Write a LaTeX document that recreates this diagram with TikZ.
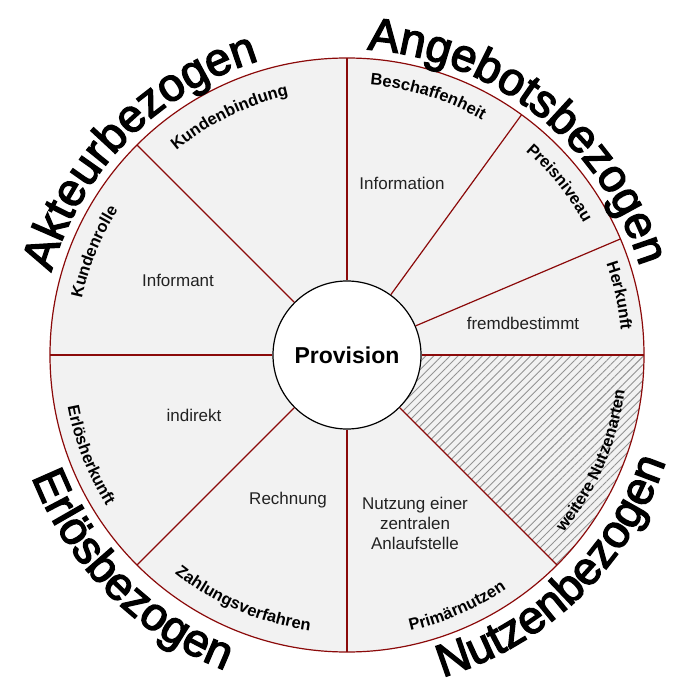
\documentclass[tikz,border=0pt]{standalone}
\usepackage{fontspec}
\setmainfont{Liberation Sans}
\newfontfamily\bigface[FakeBold=3]{Liberation Sans}
\usetikzlibrary{decorations.text,patterns.meta}
\definecolor{ring}{HTML}{F2F2F2}
\definecolor{rim}{HTML}{8B0A0A}
\definecolor{txt}{HTML}{222222}
\newcommand{\bigfnt}{\bigface\fontsize{46}{46}\selectfont}
\newcommand{\secfnt}{\fontsize{16.5}{16.5}\selectfont\bfseries}
\newcommand{\innfnt}{\fontsize{17}{20}\selectfont}
% top label: tops outward, clockwise arc
\newcommand{\toplab}[4]{%
  \path[decorate,decoration={text along path,text align=center,text={|#4|#3}}]
    ({#1+40}:#2) arc[start angle={#1+40},end angle={#1-40},radius=#2];}
% bottom label: tops inward, counterclockwise arc
\newcommand{\botlab}[4]{%
  \path[decorate,decoration={text along path,text align=center,text={|#4|#3}}]
    ({#1-40}:#2) arc[start angle={#1-40},end angle={#1+40},radius=#2];}
\begin{document}
\begin{tikzpicture}[x=1pt,y=1pt,
  sector/.style={draw=rim,line width=1.2pt},
  inner/.style={text=txt,font=\innfnt,align=center}]
\useasboundingbox (-347,-330) rectangle (325,355);
% ring
\node[circle,fill=ring,minimum size=594pt,inner sep=0pt,outer sep=0pt] (outer) at (0,0) {};
\path[pattern={Lines[angle=45,distance=5.7pt,line width=0.9pt]},pattern color=gray!85]
  (0,0) -- (0:297) arc[start angle=0,end angle=-45,radius=297] -- cycle;
\draw[sector] (outer.center) circle[radius=297];
% centre
\node[circle,draw=black,fill=white,line width=1.2pt,minimum size=148pt,inner sep=0pt]
  (prov) at (0,0) {\fontsize{23}{23}\selectfont\bfseries Provision};
\foreach \a in {90,54,23,0,315,270,225,180,135}
  \draw[sector] (prov.\a) -- (outer.\a);
% inner texts
\node[inner] (t1) at (55,172) {Information};
\node[inner] (t2) at (176,32) {fremdbestimmt};
\node[inner] (t3) at (-169,75) {Informant};
\node[inner] (t4) at (-153,-60) {indirekt};
\node[inner] (t5) at (-59,-145) {Rechnung};
\node[inner] (t6) at (68,-168) {Nutzung einer\\zentralen\\Anlaufstelle};
% sector labels
\toplab{72.6}{271}{Beschaffenheit}{\secfnt}
\toplab{39}{271}{Preisniveau}{\secfnt}
\toplab{12.3}{275}{Herkunft}{\secfnt}
\toplab{116.3}{266}{Kundenbindung}{\secfnt}
\toplab{157.8}{271}{Kundenrolle}{\secfnt}
\botlab{-23.3}{280}{weitere Nutzenarten}{\secfnt}
\botlab{-66.4}{283}{Primärnutzen}{\secfnt}
\botlab{-113}{278}{Zahlungsverfahren}{\secfnt}
\botlab{-158.7}{284}{Erlösherkunft}{\secfnt}
% big labels
\toplab{51.5}{306}{Angebotsbezogen}{\bigfnt}
\toplab{135.5}{307}{Akteurbezogen}{\bigfnt}
\botlab{-46}{336}{Nutzenbezogen}{\bigfnt}
\botlab{-135}{338}{Erlösbezogen}{\bigfnt}
\end{tikzpicture}
\end{document}
